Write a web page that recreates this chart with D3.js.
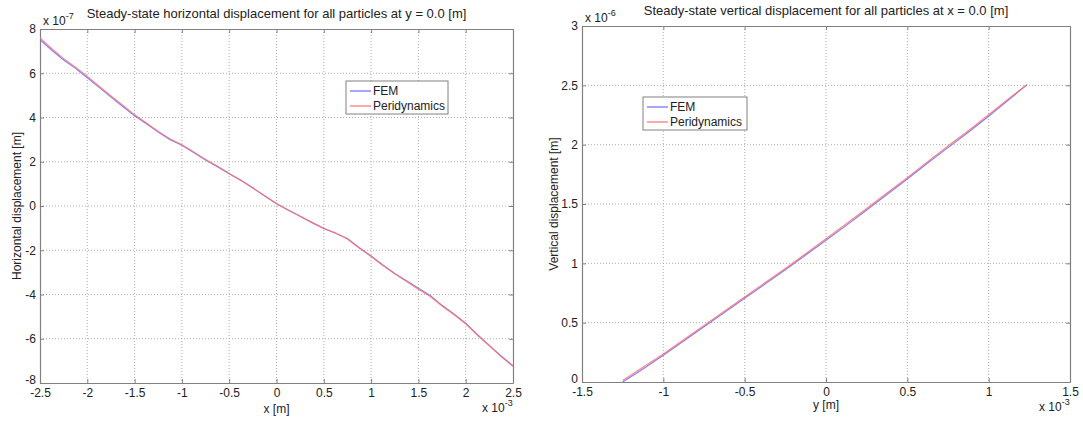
<!DOCTYPE html>
<html>
<head>
<meta charset="utf-8">
<script src="https://cdn.jsdelivr.net/npm/d3@7"></script>
<style>
  html, body { margin: 0; padding: 0; background: #fff; }
  svg { display: block; font-family: "Liberation Sans", Arial, sans-serif; }
</style>
</head>
<body>
<svg id="fig" width="1083" height="421"></svg>
<script>
// ---- Horizontal displacement along y = 0 (x in 1e-3 m, displacement in 1e-7 m)
const hX = [-2.5, -2.375, -2.25, -2.125, -2.0, -1.875, -1.75, -1.625, -1.5, -1.375,
            -1.25, -1.125, -1.0, -0.875, -0.75, -0.625, -0.5, -0.375, -0.25, -0.125,
            0.0, 0.125, 0.25, 0.375, 0.5, 0.625, 0.75, 0.875, 1.0, 1.125,
            1.25, 1.375, 1.5, 1.625, 1.75, 1.875, 2.0, 2.125, 2.25, 2.375, 2.5];
const hFEM = [7.52, 7.04, 6.60, 6.22, 5.80, 5.36, 4.92, 4.50, 4.08, 3.72,
              3.34, 3.00, 2.75, 2.42, 2.08, 1.78, 1.46, 1.15, 0.81, 0.45,
              0.10, -0.19, -0.46, -0.75, -1.02, -1.23, -1.47, -1.89, -2.26, -2.67,
              -3.05, -3.38, -3.72, -4.05, -4.49, -4.88, -5.30, -5.82, -6.30, -6.78, -7.22];
const hPD  = [7.60, 7.11, 6.66, 6.27, 5.86, 5.41, 4.97, 4.55, 4.12, 3.75,
              3.37, 3.03, 2.77, 2.44, 2.10, 1.80, 1.47, 1.16, 0.82, 0.46,
              0.11, -0.18, -0.46, -0.74, -1.01, -1.22, -1.49, -1.90, -2.28, -2.69,
              -3.06, -3.41, -3.76, -4.09, -4.52, -4.90, -5.32, -5.84, -6.32, -6.81, -7.25];

// ---- Vertical displacement along x = 0 (y in 1e-3 m, displacement in 1e-6 m)
const vY = [-1.25, -1.125, -1.0, -0.875, -0.75, -0.625, -0.5, -0.375, -0.25, -0.125,
            0.0, 0.125, 0.25, 0.375, 0.5, 0.625, 0.75, 0.875, 1.0, 1.125, 1.235];
const vFEM = [0.0, 0.11, 0.225, 0.345, 0.465, 0.585, 0.705, 0.825, 0.945, 1.07,
              1.195, 1.32, 1.45, 1.58, 1.71, 1.845, 1.975, 2.105, 2.24, 2.38, 2.505];
const vPD  = [0.012, 0.124, 0.236, 0.357, 0.476, 0.597, 0.716, 0.837, 0.957, 1.081,
              1.207, 1.333, 1.462, 1.593, 1.722, 1.857, 1.988, 2.118, 2.252, 2.39, 2.505];

// ---- Tick values
const hXTicks = [-2.5, -2, -1.5, -1, -0.5, 0, 0.5, 1, 1.5, 2, 2.5];
const hYTicks = [-8, -6, -4, -2, 0, 2, 4, 6, 8];
const vXTicks = [-1.5, -1, -0.5, 0, 0.5, 1, 1.5];
const vYTicks = [0, 0.5, 1, 1.5, 2, 2.5, 3];

const seriesNames = ["FEM", "Peridynamics"];
const seriesColors = ["#6b6bff", "#ff7070"];

const svg = d3.select("#fig");
const FS = 12;

function fmt(v) { return String(v); }

function drawPanel(cfg) {
  const g = svg.append("g");
  const x = d3.scaleLinear().domain(cfg.xDomain).range([cfg.left, cfg.right]);
  const y = d3.scaleLinear().domain(cfg.yDomain).range([cfg.bottom, cfg.top]);

  // grid
  g.append("g").selectAll("line").data(cfg.xTicks.slice(1, -1)).join("line")
    .attr("x1", d => x(d)).attr("x2", d => x(d))
    .attr("y1", cfg.top).attr("y2", cfg.bottom)
    .attr("stroke", "#9a9a9a").attr("stroke-width", 0.8).attr("stroke-dasharray", "1,2");
  g.append("g").selectAll("line").data(cfg.yTicks.slice(1, -1)).join("line")
    .attr("y1", d => y(d)).attr("y2", d => y(d))
    .attr("x1", cfg.left).attr("x2", cfg.right)
    .attr("stroke", "#9a9a9a").attr("stroke-width", 0.8).attr("stroke-dasharray", "1,2");

  // axes with inward ticks
  const ax = g.append("g").attr("transform", `translate(0,${cfg.bottom})`)
    .call(d3.axisBottom(x).tickValues(cfg.xTicks).tickFormat(fmt).tickSizeInner(-4).tickSizeOuter(0).tickPadding(5));
  const ay = g.append("g").attr("transform", `translate(${cfg.left},0)`)
    .call(d3.axisLeft(y).tickValues(cfg.yTicks).tickFormat(fmt).tickSizeInner(-4).tickSizeOuter(0).tickPadding(4));
  const axT = g.append("g").attr("transform", `translate(0,${cfg.top})`)
    .call(d3.axisTop(x).tickValues(cfg.xTicks).tickFormat("").tickSizeInner(-4).tickSizeOuter(0));
  const ayR = g.append("g").attr("transform", `translate(${cfg.right},0)`)
    .call(d3.axisRight(y).tickValues(cfg.yTicks).tickFormat("").tickSizeInner(-4).tickSizeOuter(0));
  [ax, ay, axT, ayR].forEach(a => {
    a.select(".domain").attr("stroke", "#808080").attr("stroke-width", 1.2);
    a.selectAll(".tick line").attr("stroke", "#808080");
    a.selectAll(".tick text").attr("fill", "#222").attr("font-size", FS)
      .attr("font-family", "Liberation Sans, Arial, sans-serif");
  });
  // lowest y label sits a little higher, clear of the first x label
  ay.selectAll(".tick text").filter(d => d === cfg.yTicks[0]).attr("dy", "0.05em");

  // clip
  const clipId = cfg.id + "-clip";
  svg.append("clipPath").attr("id", clipId).append("rect")
    .attr("x", cfg.left).attr("y", cfg.top - 2)
    .attr("width", cfg.right - cfg.left).attr("height", cfg.bottom - cfg.top + 2);

  const line = d3.line().x(d => x(d[0])).y(d => y(d[1]));
  const plot = g.append("g").attr("clip-path", `url(#${clipId})`);
  cfg.series.forEach((s, i) => {
    plot.append("path")
      .datum(cfg.xs.map((v, k) => [v, s[k]]))
      .attr("d", line)
      .attr("fill", "none")
      .attr("stroke", seriesColors[i])
      .attr("stroke-width", 1.2)
      .attr("stroke-opacity", 0.85);
  });

  // exponent labels
  const yExp = g.append("text").attr("x", cfg.left + 3).attr("y", cfg.top - 4)
    .attr("font-size", FS).attr("fill", "#222");
  yExp.append("tspan").text("x 10");
  yExp.append("tspan").attr("dy", -6).attr("font-size", 9).text(cfg.yExp);

  const xExp = g.append("text").attr("x", cfg.right - 31).attr("y", cfg.bottom + 29)
    .attr("font-size", FS).attr("fill", "#222");
  xExp.append("tspan").text("x 10");
  xExp.append("tspan").attr("dy", -6).attr("font-size", 9).text(cfg.xExp);

  // titles
  g.append("text").attr("x", (cfg.left + cfg.right) / 2).attr("y", cfg.top - 11)
    .attr("text-anchor", "middle").attr("font-size", 13).attr("fill", "#222")
    .text(cfg.title);
  g.append("text").attr("x", (cfg.left + cfg.right) / 2).attr("y", cfg.bottom + cfg.xLabelDy)
    .attr("text-anchor", "middle").attr("font-size", FS).attr("fill", "#222")
    .text(cfg.xLabel);
  g.append("text")
    .attr("transform", `translate(${cfg.yLabelX},${(cfg.top + cfg.bottom) / 2}) rotate(-90)`)
    .attr("text-anchor", "middle").attr("font-size", FS).attr("fill", "#222")
    .text(cfg.yLabel);

  // legend
  const lg = g.append("g").attr("transform", `translate(${cfg.legend[0]},${cfg.legend[1]})`);
  lg.append("rect").attr("width", cfg.legend[2]).attr("height", 33)
    .attr("fill", "#fff").attr("stroke", "#808080").attr("stroke-width", 1);
  seriesNames.forEach((n, i) => {
    const yy = 10 + i * 15;
    lg.append("line").attr("x1", 4).attr("x2", 25).attr("y1", yy).attr("y2", yy)
      .attr("stroke", seriesColors[i]).attr("stroke-width", 1.2);
    lg.append("text").attr("x", 27).attr("y", yy + 4).attr("font-size", FS)
      .attr("fill", "#222").text(n);
  });
}

drawPanel({
  id: "horiz",
  left: 40, right: 513, top: 29, bottom: 383,
  xDomain: [-2.5, 2.5], yDomain: [-8, 8],
  xTicks: hXTicks, yTicks: hYTicks,
  xs: hX, series: [hFEM, hPD],
  yExp: "-7", xExp: "-3",
  title: "Steady-state horizontal displacement for all particles at y = 0.0 [m]",
  xLabel: "x [m]", xLabelDy: 30,
  yLabel: "Horizontal displacement [m]", yLabelX: 21,
  legend: [346, 81, 102]
});

drawPanel({
  id: "vert",
  left: 582, right: 1070, top: 26, bottom: 382,
  xDomain: [-1.5, 1.5], yDomain: [0, 3],
  xTicks: vXTicks, yTicks: vYTicks,
  xs: vY, series: [vFEM, vPD],
  yExp: "-6", xExp: "-3",
  title: "Steady-state vertical displacement for all particles at x = 0.0 [m]",
  xLabel: "y [m]", xLabelDy: 27,
  yLabel: "Vertical displacement [m]", yLabelX: 558,
  legend: [643, 97, 104]
});
</script>
</body>
</html>
